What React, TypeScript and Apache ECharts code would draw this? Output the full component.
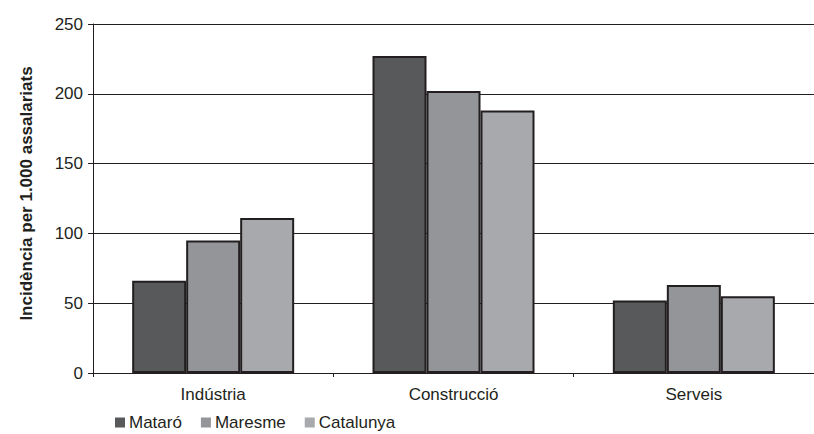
import React, { useEffect, useRef } from "react";
import * as echarts from "echarts";

const categories = ["Indústria", "Construcció", "Serveis"];
const seriesNames = ["Mataró", "Maresme", "Catalunya"];
const mataro = [66, 227, 52];
const maresme = [95, 202, 63];
const catalunya = [111, 188, 55];
const yTicks = { min: 0, max: 250, interval: 50 };
const colors = ["#58595b", "#939598", "#a7a9ac"];

export default function App() {
  const ref = useRef<HTMLDivElement>(null);
  useEffect(() => {
    document.body.style.margin = "0";
    const chart = echarts.init(ref.current!, null, { renderer: "svg" });
    const font = "'Liberation Sans', Arial, Helvetica, sans-serif";
    const data = [mataro, maresme, catalunya];
    chart.setOption({
      animation: false,
      textStyle: { fontFamily: font },
      grid: { left: 93, top: 24, bottom: 61, width: 725 },
      legend: {
        left: 115,
        top: 413,
        padding: 0,
        itemWidth: 10,
        itemHeight: 10,
        itemGap: 19,
        icon: "rect",
        textStyle: { fontFamily: font, fontSize: 17, lineHeight: 19, color: "#231f20", padding: [0, 0, 0, -1] },
        data: seriesNames,
        itemStyle: { borderWidth: 0 },
      },
      xAxis: {
        type: "category",
        data: categories,
        axisLine: { lineStyle: { color: "#231f20", width: 1 } },
        axisTick: { show: true, length: 4, lineStyle: { color: "#231f20" } },
        axisLabel: { fontFamily: font, fontSize: 17, color: "#231f20", margin: 13 },
      },
      yAxis: {
        type: "value",
        min: yTicks.min,
        max: yTicks.max,
        interval: yTicks.interval,
        name: "Incidència per 1.000 assalariats",
        nameLocation: "middle",
        nameGap: 58,
        nameTextStyle: { fontFamily: font, fontSize: 17, fontWeight: "bold", color: "#231f20", padding: [0, 0, 0, 10] },
        axisLine: { show: true, lineStyle: { color: "#231f20", width: 1 } },
        axisTick: { show: true, length: 5, lineStyle: { color: "#231f20" } },
        axisLabel: { fontFamily: font, fontSize: 17, color: "#231f20", margin: 10 },
        splitLine: { show: true, lineStyle: { color: "#231f20", width: 1 } },
      },
      series: seriesNames.map((name, i) => ({
        name,
        type: "bar",
        data: data[i],
        barWidth: 54,
        barGap: "0%",
        itemStyle: { color: colors[i], borderColor: "#231f20", borderWidth: 2 },
      })),
    });
    return () => chart.dispose();
  }, []);
  return <div ref={ref} style={{ width: 814, height: 434 }} />;
}
